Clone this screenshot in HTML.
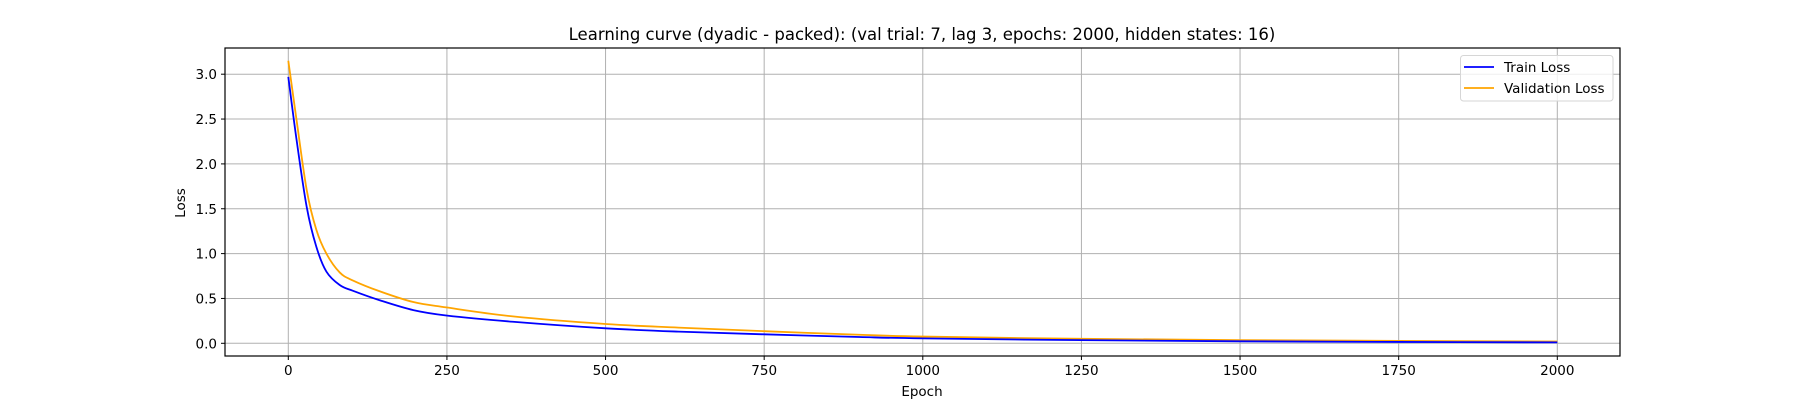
<!DOCTYPE html>
<html><head><meta charset="utf-8"><style>
body{margin:0;background:#fff}
svg text{font-family:"DejaVu Sans","Liberation Sans",sans-serif;fill:#000}
</style></head><body>
<svg id="chart" width="1800" height="400" xmlns="http://www.w3.org/2000/svg"></svg>
<script>
const epochs=[0,13,29,44,60,81,102,144,197,249,354,500,615,750,900,1000,1250,1500,1750,2000];
const trainLoss=[2.97,2.27,1.52,1.08,0.80,0.65,0.585,0.48,0.37,0.31,0.24,0.167,0.13,0.10,0.07,0.055,0.035,0.022,0.015,0.01];
const valLoss=[3.15,2.49,1.71,1.27,1.0,0.79,0.70,0.58,0.46,0.40,0.30,0.215,0.175,0.135,0.095,0.075,0.05,0.035,0.027,0.02];
const xTicks=[0,250,500,750,1000,1250,1500,1750,2000];
const yTicks=[0.0,0.5,1.0,1.5,2.0,2.5,3.0];
const L=225,R=1620,T=48,B=356;
const xs=v=>288.3+v*0.63450;
const ys=v=>343.3-v*89.7;
const svg=document.getElementById('chart');
const NS='http://www.w3.org/2000/svg';
function el(t,a,p){const e=document.createElementNS(NS,t);for(const k in a)e.setAttribute(k,a[k]);(p||svg).appendChild(e);return e;}
const grid=el('g',{});


xTicks.forEach(v=>{
  const g=el('line',{x1:xs(v),x2:xs(v),y1:T,y2:B,stroke:'#b0b0b0','stroke-width':1},grid);
  
  
  el('line',{x1:xs(v),x2:xs(v),y1:B,y2:B+4,stroke:'#000'});
  const t=el('text',{x:xs(v),y:B+19,'text-anchor':'middle','font-size':13.5});
  t.textContent=v;
  
  
});
yTicks.forEach(v=>{
  const g=el('line',{x1:L,x2:R,y1:ys(v),y2:ys(v),stroke:'#b0b0b0','stroke-width':1},grid);
  
  
  el('line',{x1:L-4,x2:L,y1:ys(v),y2:ys(v),stroke:'#000'});
  const t=el('text',{x:L-8,y:ys(v)+5,'text-anchor':'end','font-size':13.5});
  t.textContent=v.toFixed(1);
  
  
});
function smoothPath(pts){
  let d='M'+pts[0][0]+','+pts[0][1];
  for(let i=0;i<pts.length-1;i++){
    const p0=pts[i-1]||pts[i],p1=pts[i],p2=pts[i+1],p3=pts[i+2]||p2;
    const c1=[p1[0]+(p2[0]-p0[0])/6,p1[1]+(p2[1]-p0[1])/6];
    const c2=[p2[0]-(p3[0]-p1[0])/6,p2[1]-(p3[1]-p1[1])/6];
    d+=' C'+c1+' '+c2+' '+p2;
  }
  return d;
}
function line(vals,color,name){
  const pts=epochs.map((e,i)=>[xs(e),ys(vals[i])]);
  const p=el('path',{d:smoothPath(pts),fill:'none',stroke:color,'stroke-width':1.8,'stroke-linejoin':'round'});
  
  
}
line(valLoss,'#ffa500','validation-loss-line');
line(trainLoss,'#0000ff','train-loss-line');
const frame=el('rect',{x:L,y:T,width:R-L,height:B-T,fill:'none',stroke:'#000','stroke-width':1.2});


const title=el('text',{x:922,y:40,'text-anchor':'middle','font-size':16.5});
title.textContent='Learning curve (dyadic - packed): (val trial: 7, lag 3, epochs: 2000, hidden states: 16)';


const xl=el('text',{x:922,y:396,'text-anchor':'middle','font-size':13.5});
xl.textContent='Epoch';


const yl=el('text',{x:0,y:0,'text-anchor':'middle','font-size':13.5,transform:'translate(185,203) rotate(-90)'});
yl.textContent='Loss';


const lg=el('g',{});


el('rect',{x:1460.5,y:55.5,width:152.5,height:45.5,rx:3,fill:'#fff','fill-opacity':0.8,stroke:'#d6d6d6'},lg);
[['Train Loss','#0000ff',67],['Validation Loss','#ffa500',88]].forEach(([n,c,y])=>{
  el('line',{x1:1464,x2:1494,y1:y,y2:y,stroke:c,'stroke-width':1.8},lg);
  const t=el('text',{x:1504,y:y+5,'font-size':13.5},lg);
  t.textContent=n;
  
  
});
</script>
</body></html>
